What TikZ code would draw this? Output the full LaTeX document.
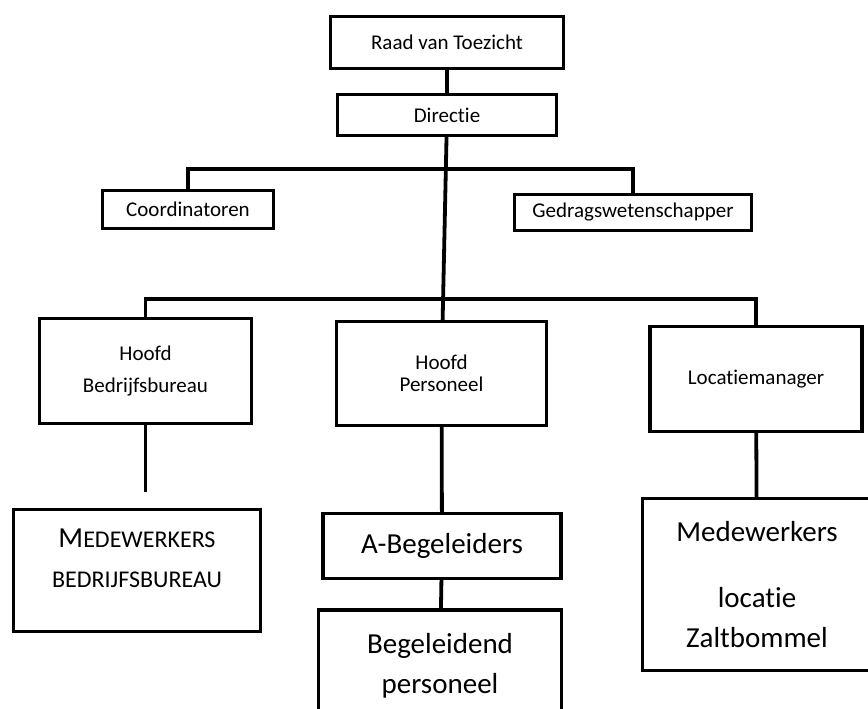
\documentclass[tikz,border=0pt]{standalone}
\usepackage{fontspec}
\setmainfont{Carlito}[Ligatures=NoCommon]

\begin{document}
\begin{tikzpicture}
  [x=1pt,y=-1pt,
   box/.style={draw,line width=3.4pt,inner sep=0pt},
   unit/.style={box,align=center,font=\fontsize{21}{22}\selectfont},
   team/.style={box,align=center,font=\fontsize{29}{40}\selectfont},
   link/.style={line width=3.8pt}]

  \useasboundingbox (0,0) rectangle (868,709);
  \clip (0,0) rectangle (868,709);

  \node[unit,minimum width=233pt,minimum height=52pt] (raad)   at (447,42.5)  {Raad van Toezicht};
  \node[unit,minimum width=219pt,minimum height=41pt] (dir)    at (447,115)   {Directie};
  \node[unit,minimum width=171pt,minimum height=38pt] (coord)  at (188,209.5) {Coordinatoren};
  \node[unit,minimum width=237pt,minimum height=36pt] (gedrag) at (633,212.5) {Gedragswetenschapper};

  \node[unit,minimum width=212pt,minimum height=105pt] (hb) at (145.5,371) {Hoofd\\[10pt]Bedrijfsbureau};
  \node[unit,minimum width=210pt,minimum height=104pt] (hp) at (441.5,373.5) {Hoofd\\Personeel};
  \node[unit,minimum width=212pt,minimum height=105pt] (hl) at (756,379) {Locatiemanager};

  \node[box,font=\fontsize{24}{40}\selectfont,minimum width=247pt,minimum height=122pt] (mb) at (137,570.5)
    {\begin{tabular}{@{}c@{}}{\fontsize{29}{40}\selectfont M}EDEWERKERS\\ BEDRIJFSBUREAU\\[22pt]\end{tabular}};
  \node[team,minimum width=238pt,minimum height=65pt]  (ab) at (442,546) {A-Begeleiders};
  \node[team,minimum width=243pt,minimum height=112pt] (bp) at (440,666) {Begeleidend\\personeel};
  \node[team,minimum width=229pt,minimum height=172pt] (ml) at (757,584.5) {Medewerkers\\[26pt]locatie\\Zaltbommel};

  \coordinate (bar1) at (447,169);
  \coordinate (bar2) at (447,299);
  \coordinate (hbend) at (145.5,492);

  \draw[link] (coord) |- (bar1) -| (gedrag);
  \draw[link] (hb) |- (bar2) -| (hl);
  \draw[link] (hb) -- (hbend);
  \foreach \from/\to in {raad/dir,dir/hp,hp/ab,ab/bp,hl/ml}
    \draw[link] (\from) -- (\to);
\end{tikzpicture}
\end{document}
